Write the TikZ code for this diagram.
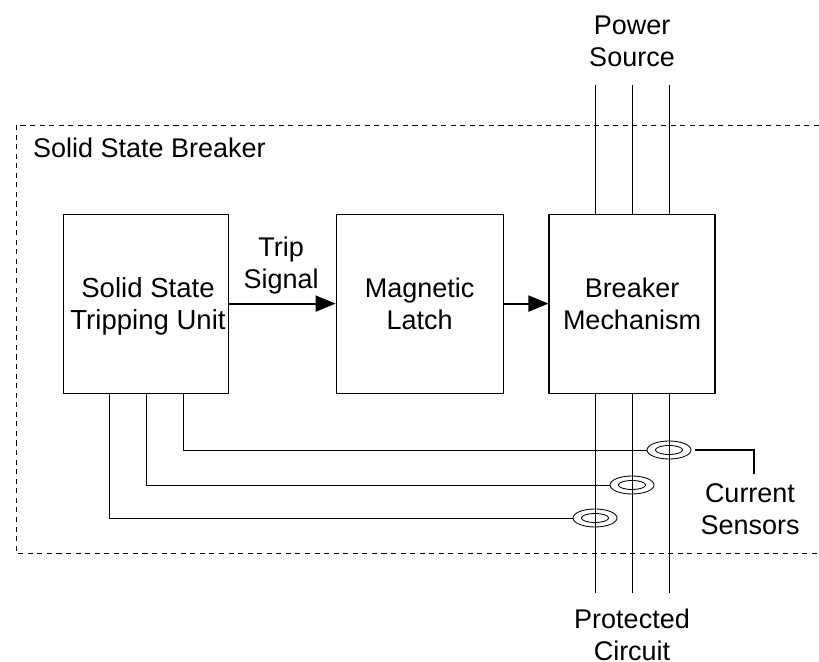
\documentclass[tikz,border=0pt]{standalone}
\usepackage{fontspec}
\setmainfont{Liberation Sans}
\usepackage{tikz}
\usetikzlibrary{arrows.meta, calc, shapes.geometric}

\tikzset{
  blockbox/.style={draw, line width=0.75pt, minimum height=4.475cm, align=center},
  sensorring/.style={draw, ellipse, line width=0.6pt, minimum width=1.1cm, minimum height=0.45cm, inner sep=0pt},
  sensorcore/.style={draw, ellipse, line width=0.6pt, minimum width=0.68cm, minimum height=0.225cm, inner sep=0pt},
  caption/.style={align=center, inner sep=0pt},
  wire/.style={line width=0.65pt},
  signal/.style={line width=1.3pt, -{Triangle[length=0.5cm, width=0.4cm]}}
}

\begin{document}
\begin{tikzpicture}[font=\fontsize{19.2}{22.9}\selectfont]
  \useasboundingbox (0,0) rectangle (20.475,16.55);

  % enclosure, open on the right
  \draw[line width=0.55pt, dash pattern=on 3.6pt off 3.2pt] (20.475,13.425) -- (0.4,13.425) -- (0.4,2.725) -- (20.475,2.725);
  \node[caption, anchor=west] (title) at (0.82,12.85) {Solid State Breaker};

  % blocks
  \node[blockbox, minimum width=4.125cm] (unit) at (3.64,8.96) {};
  \node[caption, font=\fontsize{19.6}{22.9}\selectfont] (unittext) at (3.7,8.89) {Solid State\\Tripping Unit};
  \node[blockbox, minimum width=4.175cm] (latch) at (10.49,8.96) {Magnetic\\Latch};
  \node[blockbox, minimum width=4.15cm] (mech) at (15.8,8.96) {Breaker\\Mechanism};

  \draw[signal] (unit) -- (latch);
  \draw[signal] (latch) -- (mech);
  \node[caption] (trip) at (7.03,9.92) {Trip\\Signal};

  % three phases and their sensors
  \node[sensorring] (ringa) at (16.725,5.3) {};
  \node[sensorcore] (corea) at (16.725,5.3) {};
  \node[sensorring] (ringb) at (15.8,4.425) {};
  \node[sensorcore] (coreb) at (15.8,4.425) {};
  \node[sensorring] (ringc) at (14.875,3.6) {};
  \node[sensorcore] (corec) at (14.875,3.6) {};

  \node[caption] (source) at (15.8,15.515) {Power\\Source};
  \node[caption] (circuit) at (15.8,0.68) {Protected\\Circuit};
  \node[caption] (sensors) at (18.75,3.825) {Current\\Sensors};

  \foreach \px/\pname in {14.875/c, 15.8/b, 16.725/a} {
    \coordinate (top\pname) at (\px,14.425);
    \coordinate (bot\pname) at (\px,1.725);
    \draw[wire] (top\pname) -- (\px,11.2);
    \draw[wire] (\px,6.725) -- (bot\pname);
  }

  % sensor leads back to the unit
  \draw[wire] (unit.south -| 4.575,0) |- (ringa.west);
  \draw[wire] (unit.south -| 3.65,0) |- (ringb.west);
  \draw[wire] (unit.south -| 2.725,0) |- (ringc.west);

  \coordinate (leadend) at (18.85,4.7);
  \draw[line width=1.1pt] ($(ringa.east)+(0.1,0)$) -| (leadend);
\end{tikzpicture}
\end{document}
